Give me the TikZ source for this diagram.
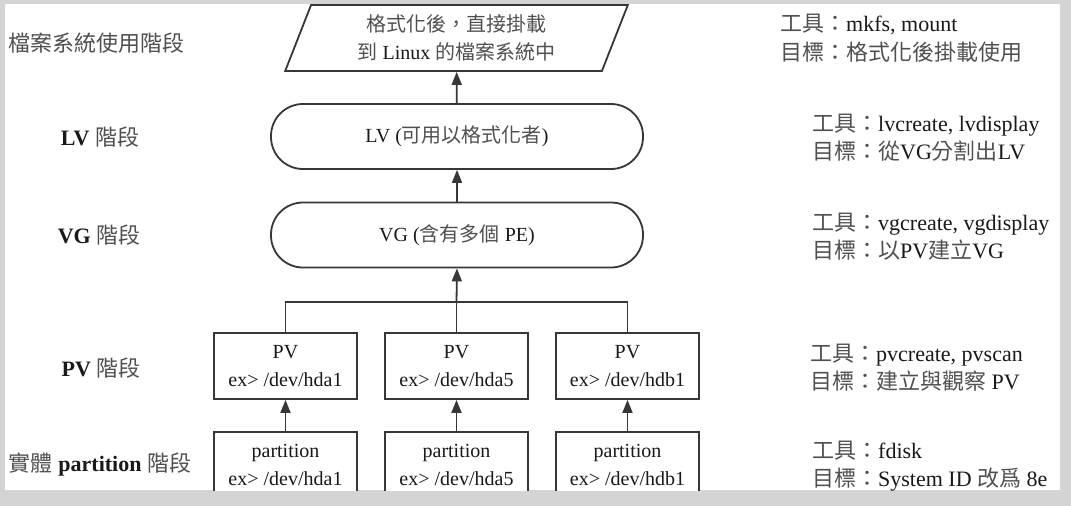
\documentclass[tikz,border=0pt]{standalone}
\usepackage{fontspec}
\setmainfont{Liberation Serif}
\newfontfamily\cjkfont{Noto Sans CJK TC}
\usetikzlibrary{arrows.meta,shapes.geometric}
\definecolor{bggray}{RGB}{212,212,212}
\definecolor{linegray}{RGB}{55,55,55}
\definecolor{txt}{RGB}{25,25,25}
\definecolor{cjktxt}{RGB}{80,80,80}
\newcommand\zhtxt[1]{{\cjkfont\color{cjktxt}#1}}
\begin{document}
\begin{tikzpicture}[x=1pt,y=-1pt,
  shapeline/.style={draw=linegray, line width=1.8pt, fill=white, text=txt, align=center, inner sep=0pt,
    font=\fontsize{20}{28}\selectfont},
  boxnode/.style={shapeline, minimum width=143pt, minimum height=66pt},
  pill/.style={shapeline, rounded corners=32pt, minimum width=372pt, minimum height=65pt},
  para/.style={shapeline, trapezium, trapezium left angle=69.3, trapezium right angle=110.7,
    trapezium stretches=true, minimum width=343pt, minimum height=66pt},
  conn/.style={draw=linegray, line width=1.8pt},
  arr/.style={conn, -{Triangle[length=13pt,width=10pt]}},
  leftlab/.style={text=txt, inner sep=0pt, font=\fontsize{22}{28}\selectfont},
  rightlab/.style={text=txt, inner sep=0pt, anchor=west, align=left, font=\fontsize{22}{28.5}\selectfont}
]
\useasboundingbox (0,0) rectangle (1071,506);
\fill[bggray] (0,0) rectangle (1071,506);
\begin{scope}
\clip (5,4) rectangle (1060,490);
\fill[white] (5,4) rectangle (1060,490);

% left stage labels
\node[leftlab] (l1) at (97,43) {\zhtxt{檔案系統使用階段}};
\node[leftlab] (l2) at (100,137) {\textbf{LV} \zhtxt{階段}};
\node[leftlab] (l3) at (99,235) {\textbf{VG} \zhtxt{階段}};
\node[leftlab] (l4) at (101,368) {\textbf{PV} \zhtxt{階段}};
\node[leftlab] (l5) at (100,465) {\zhtxt{實體} \textbf{partition} \zhtxt{階段}};

% central shapes
\node[para] (fs) at (456.5,38) {\zhtxt{格式化後，直接掛載}\\\zhtxt{到} Linux \zhtxt{的檔案系統中}};
\node[pill] (lv) at (457,136.5) {LV (\zhtxt{可用以格式化者})};
\node[pill] (vg) at (457,235) {VG (\zhtxt{含有多個} PE)};

\node[boxnode] (v1) at (285.5,366) {PV\\ex> /dev/hda1};
\node[boxnode] (v2) at (456.5,366) {PV\\ex> /dev/hda5};
\node[boxnode] (v3) at (627.5,366) {PV\\ex> /dev/hdb1};

\node[boxnode] (p1) at (285.5,465) {partition\\ex> /dev/hda1};
\node[boxnode] (p2) at (456.5,465) {partition\\ex> /dev/hda5};
\node[boxnode] (p3) at (627.5,465) {partition\\ex> /dev/hdb1};

% connectors
\coordinate (j) at (456.5,302);
\draw[arr] (p1) -- (v1);
\draw[arr] (p2) -- (v2);
\draw[arr] (p3) -- (v3);
\draw[conn] (v1.north) |- (j) -| (v3.north);
\draw[conn] (v2.north) -- (j);
\draw[arr] (j) -- (vg.south);
\draw[arr] (vg) -- (lv);
\draw[arr] (lv) -- (fs);

% right tool/goal labels
\node[rightlab] (r1) at (780,38) {\zhtxt{工具：}mkfs, mount\\\zhtxt{目標：格式化後掛載使用}};
\node[rightlab] (r2) at (812,137.5) {\zhtxt{工具：}lvcreate, lvdisplay\\\zhtxt{目標：從}VG\zhtxt{分割出}LV};
\node[rightlab] (r3) at (812,236.5) {\zhtxt{工具：}vgcreate, vgdisplay\\\zhtxt{目標：以}PV\zhtxt{建立}VG};
\node[rightlab] (r4) at (810,367.5) {\zhtxt{工具：}pvcreate, pvscan\\\zhtxt{目標：建立與觀察} PV};
\node[rightlab] (r5) at (812,466) {\zhtxt{工具：}fdisk\\\zhtxt{目標：}System ID \zhtxt{改爲} 8e};
\end{scope}
\end{tikzpicture}
\end{document}
